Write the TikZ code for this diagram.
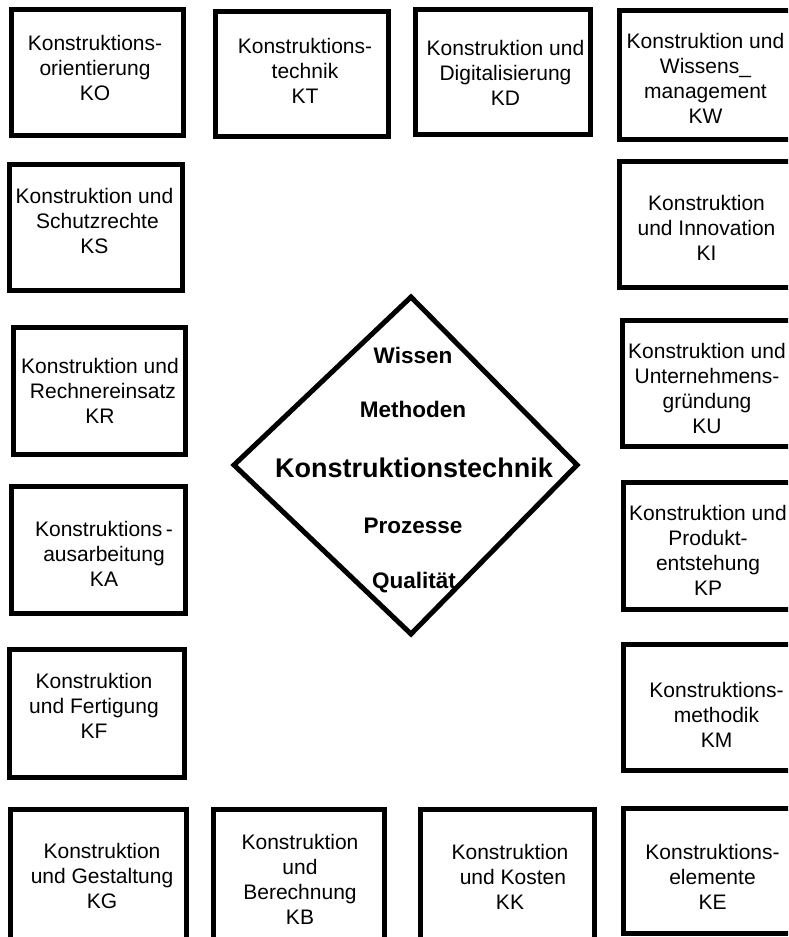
\documentclass[tikz,border=0pt]{standalone}
\usepackage{fontspec}
\setmainfont{Liberation Sans}
\begin{document}
\begin{tikzpicture}[x=1pt,y=-1pt,
  box/.style={draw=black,line width=5pt,fill=white},
  lbl/.style={inner sep=0pt,align=center,font=\fontsize{21}{25}\selectfont},
  core/.style={inner sep=0pt,anchor=base,font=\fontsize{22.5}{26}\selectfont\bfseries},
  title/.style={inner sep=0pt,anchor=base,font=\fontsize{27}{30}\selectfont\bfseries}]
\useasboundingbox (0,0) rectangle (788,937);
\clip (0,0) rectangle (788,937);
\fill[white] (0,0) rectangle (788,937);

% top row
\draw[box] (11.5,9.5) rectangle (183.5,135.5);
\node[lbl] (KO) at (95,67.5) {Konstruktions-\\orientierung\\KO};
\draw[box] (215.5,11.5) rectangle (388.5,136.5);
\node[lbl] (KT) at (305,70.5) {Konstruktions-\\technik\\KT};
\draw[box] (415.5,9.5) rectangle (590.5,134.5);
\node[lbl] (KD) at (505.5,72.5) {Konstruktion und\\Digitalisierung\\KD};
\draw[box] (619.5,10.5) rectangle (800,139.5);
\node[lbl] (KW) at (705.5,78) {Konstruktion und\\Wissens\_\\management\\KW};

% left column
\draw[box] (9.5,164.5) rectangle (182.5,290.5);
\node[lbl] (KS) at (94.5,221) {Konstruktion und\\\ Schutzrechte\\KS};
\draw[box] (13.5,327.5) rectangle (185.5,454.5);
\node[lbl] (KR) at (100,391) {Konstruktion und\\\ Rechnereinsatz\\KR};
\draw[box] (11.5,486.5) rectangle (185.5,613.5);
\node[lbl] (KA) at (104,553.5) {Konstruktions\,-\\ausarbeitung\\KA};
\draw[box] (9.5,649.5) rectangle (184.5,777.5);
\node[lbl] (KF) at (94,705.5) {Konstruktion\\und Fertigung\\KF};

% right column
\draw[box] (619.5,161.5) rectangle (800,287.5);
\node[lbl] (KI) at (706.5,227.5) {Konstruktion\\und Innovation\\KI};
\draw[box] (622.5,320.5) rectangle (800,446.5);
\node[lbl] (KU) at (707,388.5) {Konstruktion und\\Unternehmens-\\gründung\\KU};
\draw[box] (623.5,482.5) rectangle (800,609.5);
\node[lbl] (KP) at (708,550) {Konstruktion und\\Produkt-\\entstehung\\KP};
\draw[box] (623.5,644.5) rectangle (800,770.5);
\node[lbl] (KM) at (716.5,714.5) {Konstruktions-\\methodik\\KM};

% bottom row
\draw[box] (10.5,809.5) rectangle (186.5,950);
\node[lbl] (KG) at (102,875.5) {Konstruktion\\und Gestaltung\\KG};
\draw[box] (213.5,809.5) rectangle (384.5,950);
\node[lbl] (KB) at (300,879) {Konstruktion\\und\\Berechnung\\KB};
\draw[box] (420.5,809.5) rectangle (594.5,950);
\node[lbl] (KK) at (510,876.5) {Konstruktion\\\ und Kosten\\KK};
\draw[box] (623.5,808.5) rectangle (800,933.5);
\node[lbl] (KE) at (712.5,876.5) {Konstruktions-\\elemente\\KE};

% central diamond
\coordinate (dT) at (411,297);
\coordinate (dL) at (234,465);
\coordinate (dR) at (577,465);
\coordinate (dB) at (411,634);
\draw[line width=5pt,fill=white] (dT) -- (dR) -- (dB) -- (dL) -- cycle;
\node[core] (wis) at (413,363) {Wissen};
\node[core] (met) at (413,417) {Methoden};
\node[title] (kt) at (414,477) {Konstruktionstechnik};
\node[core] (pro) at (413,533) {Prozesse};
\node[core] (qua) at (414,588) {Qualität};
\end{tikzpicture}
\end{document}
